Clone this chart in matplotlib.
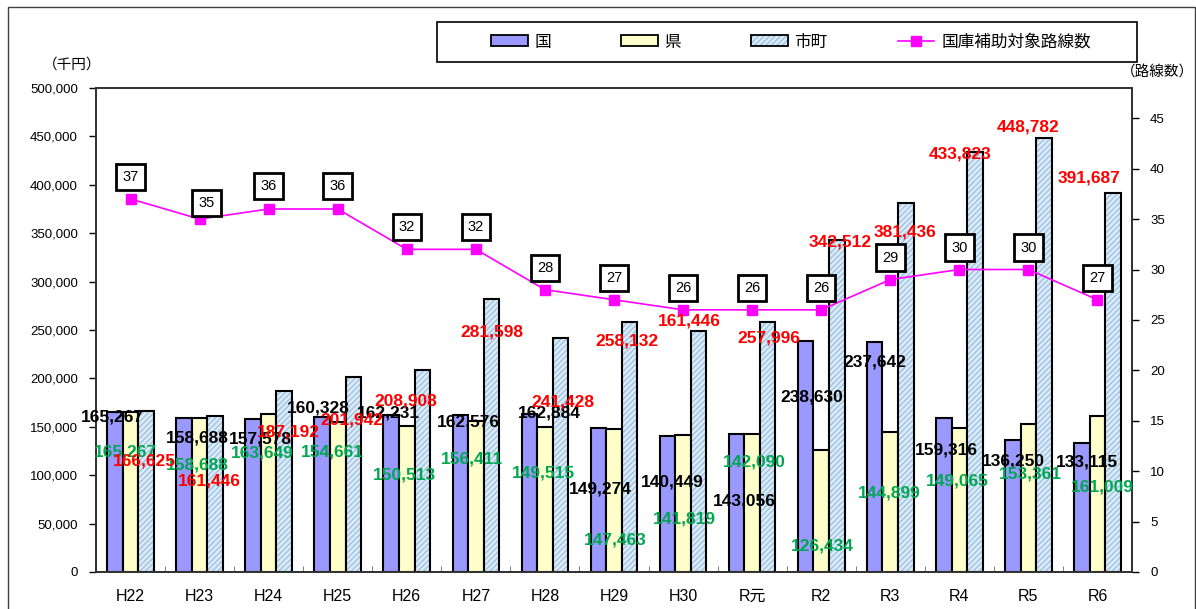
import matplotlib
matplotlib.use("Agg")
import matplotlib.pyplot as plt
import numpy as np
from matplotlib.patches import Patch, Rectangle
from matplotlib.lines import Line2D
from matplotlib.legend_handler import HandlerTuple
from matplotlib.ticker import FuncFormatter, MultipleLocator, FixedLocator

# ---------------- data ----------------
categories = ["H22", "H23", "H24", "H25", "H26", "H27", "H28", "H29", "H30",
              "R元", "R2", "R3", "R4", "R5", "R6"]
kuni = [165267, 158688, 157578, 160328, 162231, 162576, 162884, 149274, 140449,
        143056, 238630, 237642, 159316, 136250, 133115]
ken = [165267, 158688, 163649, 154661, 150513, 156411, 149515, 147463, 141819,
       142090, 126434, 144899, 149065, 153361, 161009]
shicho = [166625, 161446, 187192, 201942, 208908, 281598, 241428, 258132, 249200,
          257996, 342512, 381436, 433823, 448782, 391687]
routes = [37, 35, 36, 36, 32, 32, 28, 27, 26, 26, 26, 29, 30, 30, 27]

# label texts as printed on the chart
kuni_labels = ["165,267", "158,688", "157,578", "160,328", "162,231", "162,576", "162,884",
               "149,274", "140,449", "143,056", "238,630", "237,642", "159,316", "136,250", "133,115"]
ken_labels = ["165,267", "158,688", "163,649", "154,661", "150,513", "156,411", "149,515",
              "147,463", "141,819", "142,090", "126,434", "144,899", "149,065", "153,361", "161,009"]
shicho_labels = ["166,625", "161,446", "187,192", "201,942", "208,908", "281,598", "241,428",
                 "258,132", "161,446", "257,996", "342,512", "381,436", "433,823", "448,782", "391,687"]

series_names = ["国", "県", "市町", "国庫補助対象路線数"]

# ---------------- layout (label offsets in pixels from bar top) ----------------
kuni_off = [(-3, -5), (13, -20), (7, -20), (-4, 9), (-3, 2), (8, -7), (20, 1), (2, -61),
            (5, -46), (8, -67), (6, -56), (0, -20), (3, -32), (1, -21), (5, -19)]
ken_off = [(-5, -40), (-2, -47), (-6, -39), (-5, -30), (-2, -49), (-4, -38), (-1, -46),
           (1, -111), (1, -84), (2, -28), (1, -96), (-1, -61), (-2, -53), (2, -50), (5, -71)]
shicho_off = [(-2, -50), (-6, -65), (4, -41), (-1, -43), (-17, -31), (0, -33), (2, -64),
              (-3, -19), (-9, 10), (1, -16), (3, -2), (-1, -29), (-15, -2), (-16, 11), (-24, 15)]
box_off = [(0, 22), (7, 16), (0, 23), (0, 23), (0, 22), (0, 22), (0, 22), (0, 22),
           (0, 22), (0, 22), (0, 22), (0, 22), (0, 22), (0, 22), (0, 22)]

W, H = 1196, 609
fig = plt.figure(figsize=(W / 100, H / 100), dpi=100)
fig.patch.set_facecolor("white")

JP = ["Noto Sans CJK JP", "DejaVu Sans"]
NUM = ["Liberation Sans", "DejaVu Sans"]

ax = fig.add_axes([96 / W, 1 - 572 / H, (1132 - 96) / W, (572 - 88) / H])
ax2 = ax.twinx()

x = np.arange(len(categories))
bw = 0.225
c_kuni, c_ken, c_face, c_hatch = "#9999FF", "#FFFFCC", "#DDEBF7", "#9DC3E6"

plt.rcParams["hatch.linewidth"] = 1.0
ax.bar(x - bw, kuni, bw, color=c_kuni, edgecolor="black", linewidth=1.5, zorder=2)
ax.bar(x, ken, bw, color=c_ken, edgecolor="black", linewidth=1.5, zorder=2)
ax.bar(x + bw, shicho, bw, color=c_face, edgecolor=c_hatch, hatch="//////", linewidth=0, zorder=2)
ax.bar(x + bw, shicho, bw, fill=False, edgecolor="black", linewidth=1.5, zorder=3)

ax.set_xlim(-0.5, len(categories) - 0.5)
ax.set_ylim(0, 500000)
ax.yaxis.set_major_locator(MultipleLocator(50000))
ax.yaxis.set_major_formatter(FuncFormatter(lambda v, p: f"{int(v):,}"))
ax.set_xticks(x)
ax.set_xticklabels(categories, fontsize=11.5, family=["Liberation Sans", "Noto Sans CJK JP"])
ax.xaxis.set_minor_locator(FixedLocator(np.arange(0.5, len(categories) - 0.5, 1)))
ax.tick_params(axis="x", which="major", length=0, pad=12)
ax.tick_params(axis="x", which="minor", direction="in", length=4, color="#666666")
ax.tick_params(axis="y", direction="out", length=5, width=1, labelsize=9.5, pad=8)
for lab in ax.get_yticklabels():
    lab.set_family(NUM)

ax2.set_ylim(0, 48)
ax2.set_yticks(np.arange(0, 46, 5))
ax2.tick_params(axis="y", direction="out", length=5, width=1, labelsize=9.5, pad=8)
for lab in ax2.get_yticklabels():
    lab.set_family(NUM)
ax2.plot(x, routes, color="#FF00FF", linewidth=1.2, marker="s", markersize=7,
         markerfacecolor="#FF00FF", markeredgecolor="#FF00FF", zorder=5)

for a in (ax, ax2):
    for s in a.spines.values():
        s.set_color("#333333")
        s.set_linewidth(1.3)

# route count boxes
for i, r in enumerate(routes):
    ax2.annotate(str(r), xy=(x[i], r), xytext=box_off[i], textcoords="offset pixels",
                 ha="center", va="center", fontsize=10.5, family=NUM, zorder=6,
                 bbox=dict(boxstyle="square,pad=0.42", facecolor="white",
                           edgecolor="black", linewidth=2))

# value labels
def put_labels(vals, labels, offs, dx, color):
    for i, (v, t, o) in enumerate(zip(vals, labels, offs)):
        ax2.annotate(t, xy=(x[i] + dx, v), xycoords=ax.transData, xytext=o,
                     textcoords="offset pixels", ha="center", va="center",
                     fontsize=12.5, fontweight="bold", color=color, family=NUM, zorder=7)

put_labels(kuni, kuni_labels, kuni_off, -bw, "black")
put_labels(ken, ken_labels, ken_off, 0, "#00A651")
put_labels(shicho, shicho_labels, shicho_off, bw, "#FF0000")

# axis unit labels
fig.text(72 / W, 1 - 65 / H, "（千円）", ha="center", va="center", fontsize=10.5, family=JP)
fig.text(1157 / W, 1 - 73 / H, "（路線数）", ha="center", va="center", fontsize=10.5, family=JP)

# legend box + legend
fig.patches.append(Rectangle((437 / W, 1 - 62 / H), 700 / W, 40 / H, transform=fig.transFigure,
                             fill=False, edgecolor="black", linewidth=1.2))
h_kuni = Patch(facecolor=c_kuni, edgecolor="black", linewidth=1.3)
h_ken = Patch(facecolor=c_ken, edgecolor="black", linewidth=1.3)
h_shi = (Patch(facecolor=c_face, edgecolor=c_hatch, hatch="//////", linewidth=0),
         Patch(fill=False, edgecolor="black", linewidth=1.3))
h_line = Line2D([], [], color="#FF00FF", linewidth=1.2, marker="s", markersize=7)
leg = fig.legend([h_kuni, h_ken, h_shi, h_line], series_names, loc="center",
                 bbox_to_anchor=(791 / W, 1 - 42 / H), ncol=4, frameon=False,
                 prop={"family": JP, "size": 12}, handlelength=2.2, handleheight=0.6,
                 handletextpad=0.4, columnspacing=4.2,
                 handler_map={tuple: HandlerTuple(ndivide=1, pad=0)})

# outer border
fig.patches.append(Rectangle((8 / W, -0.05), (1195 - 8) / W, 1.05 - 7 / H, transform=fig.transFigure,
                             fill=False, edgecolor="#404040", linewidth=1.0))

fig.savefig("out.png", dpi=100)
